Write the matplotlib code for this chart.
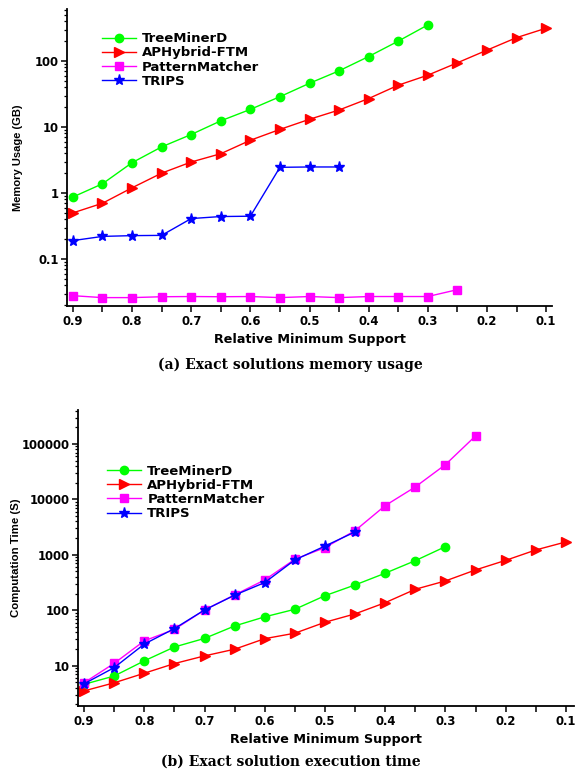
import matplotlib
matplotlib.use("Agg")
import matplotlib.pyplot as plt
from matplotlib import font_manager
from matplotlib.ticker import FixedLocator, LogLocator, NullFormatter

# ---------------- data ----------------
series_names = ["TreeMinerD", "APHybrid-FTM", "PatternMatcher", "TRIPS"]
series_colors = ["#00ff00", "#ff0000", "#ff00ff", "#0000ff"]
series_markers = ["o", ">", "s", "*"]

x_treeminer = [0.9, 0.85, 0.8, 0.75, 0.7, 0.65, 0.6, 0.55, 0.5, 0.45, 0.4, 0.35, 0.3]
x_aphybrid = [0.9, 0.85, 0.8, 0.75, 0.7, 0.65, 0.6, 0.55, 0.5, 0.45, 0.4, 0.35, 0.3,
              0.25, 0.2, 0.15, 0.1]
x_pattern = [0.9, 0.85, 0.8, 0.75, 0.7, 0.65, 0.6, 0.55, 0.5, 0.45, 0.4, 0.35, 0.3, 0.25]
x_trips = [0.9, 0.85, 0.8, 0.75, 0.7, 0.65, 0.6, 0.55, 0.5, 0.45]

mem_treeminer = [0.87, 1.38, 2.88, 5.0, 7.7, 12.4, 18.5, 28.8, 46, 71, 117, 200, 352]
mem_aphybrid = [0.50, 0.70, 1.2, 2.0, 2.95, 3.94, 6.3, 9.2, 13.1, 18.1, 27, 43, 61,
                94, 146, 226, 314]
mem_pattern = [0.0278, 0.026, 0.026, 0.0268, 0.027, 0.0268, 0.027, 0.026, 0.027,
               0.026, 0.027, 0.027, 0.027, 0.0343]
mem_trips = [0.19, 0.22, 0.226, 0.228, 0.41, 0.44, 0.445, 2.45, 2.48, 2.48]

time_treeminer = [4.6, 6.5, 12.2, 21.7, 31, 52, 76, 104, 183, 286, 466, 785, 1406]
time_aphybrid = [3.5, 4.9, 7.3, 10.9, 15, 19.8, 30.7, 38.5, 60.7, 86, 137, 239, 338,
                 534, 795, 1224, 1710]
time_pattern = [4.9, 11.0, 28, 45, 101, 189, 352, 832, 1350, 2735, 7730, 16800,
                42500, 140000]
time_trips = [4.7, 9.2, 24.5, 46.6, 101, 187, 316, 809, 1440, 2590]

x_major_ticks = [0.9, 0.8, 0.7, 0.6, 0.5, 0.4, 0.3, 0.2, 0.1]
x_minor_ticks = [0.85, 0.75, 0.65, 0.55, 0.45, 0.35, 0.25, 0.15]
mem_yticks = [0.1, 1, 10, 100]
mem_ytick_labels = ["0.1", "1", "10", "100"]
time_yticks = [10, 100, 1000, 10000, 100000]
time_ytick_labels = ["10", "100", "1000", "10000", "100000"]

# ---------------- fonts ----------------
names = {f.name for f in font_manager.fontManager.ttflist}
narrow = "Liberation Sans Narrow" if "Liberation Sans Narrow" in names else "Liberation Sans"
plt.rcParams["font.family"] = ["DejaVu Sans"]

fig = plt.figure(figsize=(5.76, 7.74), dpi=100)
W, H = 576.0, 774.0

ax1 = fig.add_axes([67 / W, 1 - 306 / H, (552 - 67) / W, (306 - 9) / H])
ax2 = fig.add_axes([78 / W, 1 - 706 / H, (574 - 78) / W, (706 - 410) / H])

marker_sizes = {"o": 6, ">": 6.5, "s": 5.5, "*": 8}


def style_axes(ax, yticks, ylabels, ylim, xlim, ylabel, label_x, ylabel_size):
    ax.set_yscale("log")
    ax.set_xlim(*xlim)
    ax.set_ylim(*ylim)
    for s in ["top", "right"]:
        ax.spines[s].set_visible(False)
    for s in ["left", "bottom"]:
        ax.spines[s].set_linewidth(1.3)
    ax.xaxis.set_major_locator(FixedLocator(x_major_ticks))
    ax.xaxis.set_minor_locator(FixedLocator(x_minor_ticks))
    ax.set_xticklabels(["%.1f" % v for v in x_major_ticks])
    ax.yaxis.set_major_locator(FixedLocator(yticks))
    ax.set_yticklabels(ylabels)
    ax.yaxis.set_minor_locator(LogLocator(base=10, subs=range(2, 10)))
    ax.yaxis.set_minor_formatter(NullFormatter())
    ax.tick_params(axis="x", which="major", direction="out", length=4, width=1.1,
                   pad=2.5, labelsize=8.4)
    ax.tick_params(axis="x", which="minor", direction="out", length=4, width=1.1)
    ax.tick_params(axis="y", which="major", direction="out", length=4.5, width=1.1,
                   pad=1.5, labelsize=8.4)
    ax.tick_params(axis="y", which="minor", direction="out", length=2.5, width=0.9)
    for lab in ax.get_xticklabels() + ax.get_yticklabels():
        lab.set_fontweight("bold")
    ax.set_xlabel("Relative Minimum Support", fontsize=9.2, fontweight="bold",
                  labelpad=3.5)
    ax.set_ylabel(ylabel, fontsize=ylabel_size, fontweight="bold", family=narrow,
                  va="center")
    ax.yaxis.set_label_coords(label_x, 0.5)


def plot_series(ax, xs, ys):
    for x, y, c, m, n in zip(xs, ys, series_colors, series_markers, series_names):
        ax.plot(x, y, color=c, marker=m, markersize=marker_sizes[m],
                markerfacecolor=c, markeredgecolor=c, linewidth=1.0, label=n)


plot_series(ax1, [x_treeminer, x_aphybrid, x_pattern, x_trips],
            [mem_treeminer, mem_aphybrid, mem_pattern, mem_trips])
style_axes(ax1, mem_yticks, mem_ytick_labels, (0.0194, 614), (0.91, 0.09),
           "Memory Usage (GB)", -0.101, 8.0)
leg1 = ax1.legend(loc="upper left", bbox_to_anchor=(0.061, 0.939), borderaxespad=0,
                  frameon=True, fancybox=False, edgecolor="none", facecolor="white",
                  framealpha=1.0, prop={"weight": "bold", "size": 9.5},
                  handlelength=2.6, handletextpad=0.45, labelspacing=0.08,
                  borderpad=0.4)

plot_series(ax2, [x_treeminer, x_aphybrid, x_pattern, x_trips],
            [time_treeminer, time_aphybrid, time_pattern, time_trips])
style_axes(ax2, time_yticks, time_ytick_labels, (1.87, 4.1e5), (0.91, 0.0867),
           "Computation Time (S)", -0.125, 8.2)
leg2 = ax2.legend(loc="upper left", bbox_to_anchor=(0.048, 0.832), borderaxespad=0,
                  frameon=True, fancybox=False, edgecolor="none", facecolor="white",
                  framealpha=1.0, prop={"weight": "bold", "size": 9.5},
                  handlelength=2.6, handletextpad=0.45, labelspacing=0.08,
                  borderpad=0.4)

fig.text(290 / W, 1 - 365 / H, "(a) Exact solutions memory usage", ha="center",
         va="center", family="DejaVu Serif", fontweight="bold", fontsize=10)
fig.text(291 / W, 1 - 762 / H, "(b) Exact solution execution time", ha="center",
         va="center", family="DejaVu Serif", fontweight="bold", fontsize=10)

fig.savefig("out.png", dpi=100)
